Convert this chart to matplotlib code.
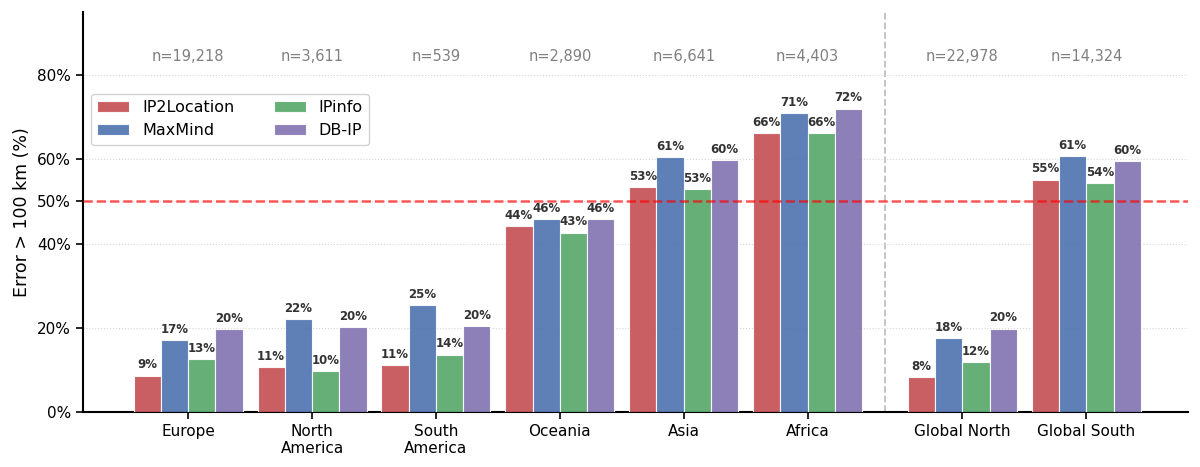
import numpy as np
import matplotlib
matplotlib.use("Agg")
import matplotlib.pyplot as plt

# region labels and sample sizes
regions = ["Europe", "North\nAmerica", "South\nAmerica", "Oceania", "Asia", "Africa",
           "Global North", "Global South"]
n_samples = ["n=19,218", "n=3,611", "n=539", "n=2,890", "n=6,641", "n=4,403",
             "n=22,978", "n=14,324"]

# share of lookups with error > 100 km (%)
ip2location = [8.6, 10.7, 11.1, 44.2, 53.4, 66.3, 8.2, 55.2]
maxmind = [17.1, 22.1, 25.4, 45.8, 60.6, 71.0, 17.6, 60.8]
ipinfo = [12.6, 9.7, 13.6, 42.6, 53.0, 66.3, 11.9, 54.4]
dbip = [19.6, 20.2, 20.3, 45.9, 59.9, 72.1, 19.8, 59.6]

providers = ["IP2Location", "MaxMind", "IPinfo", "DB-IP"]
series = [ip2location, maxmind, ipinfo, dbip]
colors = ["#C44E52", "#4C72B0", "#55A868", "#8172B2"]

# continents at 0..5, aggregate groups shifted right after a gap
x = np.array([0, 1, 2, 3, 4, 5, 6.25, 7.25])
width = 0.22

fig, ax = plt.subplots(figsize=(12, 4.67), dpi=100)
fig.subplots_adjust(left=0.069, right=0.99, bottom=0.118, top=0.974)

for i, (name, vals, col) in enumerate(zip(providers, series, colors)):
    pos = x + (i - 1.5) * width
    bars = ax.bar(pos, vals, width, color=col, alpha=0.9, edgecolor="white",
                  linewidth=0.8, label=name, zorder=3)
    for b, v in zip(bars, vals):
        ax.text(b.get_x() + b.get_width() / 2, v + 1.0, f"{v:.0f}%",
                ha="center", va="bottom", fontsize=8.5, fontweight="bold",
                color="#333333", zorder=5)

# sample sizes above each group
for xi, lab in zip(x, n_samples):
    ax.text(xi, 84.5, lab, ha="center", va="center", fontsize=10.5, color="gray")

# 50% reference line and separator between continents and aggregates
ax.axhline(50, color="red", linestyle="--", linewidth=1.8, alpha=0.65, zorder=4)
ax.axvline(5.625, color="gray", linestyle="--", linewidth=1.3, alpha=0.5, zorder=1)

ax.set_xlim(-0.85, 8.07)
ax.set_ylim(0, 95)
ax.set_xticks(x)
ax.set_xticklabels(regions, fontsize=11)
yt = [0, 20, 40, 50, 60, 80]
ax.set_yticks(yt)
ax.set_yticklabels([f"{v}%" for v in yt], fontsize=11)
ax.set_ylabel("Error > 100 km (%)", fontsize=12.5)

ax.grid(axis="y", linestyle=":", color="#cccccc", linewidth=0.8, alpha=0.8, zorder=0)
ax.spines["top"].set_visible(False)
ax.spines["right"].set_visible(False)
ax.spines["left"].set_linewidth(1.5)
ax.spines["bottom"].set_linewidth(1.5)
ax.tick_params(axis="both", width=1.2, length=5)

ax.legend(ncol=2, loc="upper left", bbox_to_anchor=(0.0, 0.815), fontsize=11.5,
          frameon=True, framealpha=0.9, edgecolor="#cccccc", columnspacing=2.5)

fig.savefig("out.png", dpi=100)
